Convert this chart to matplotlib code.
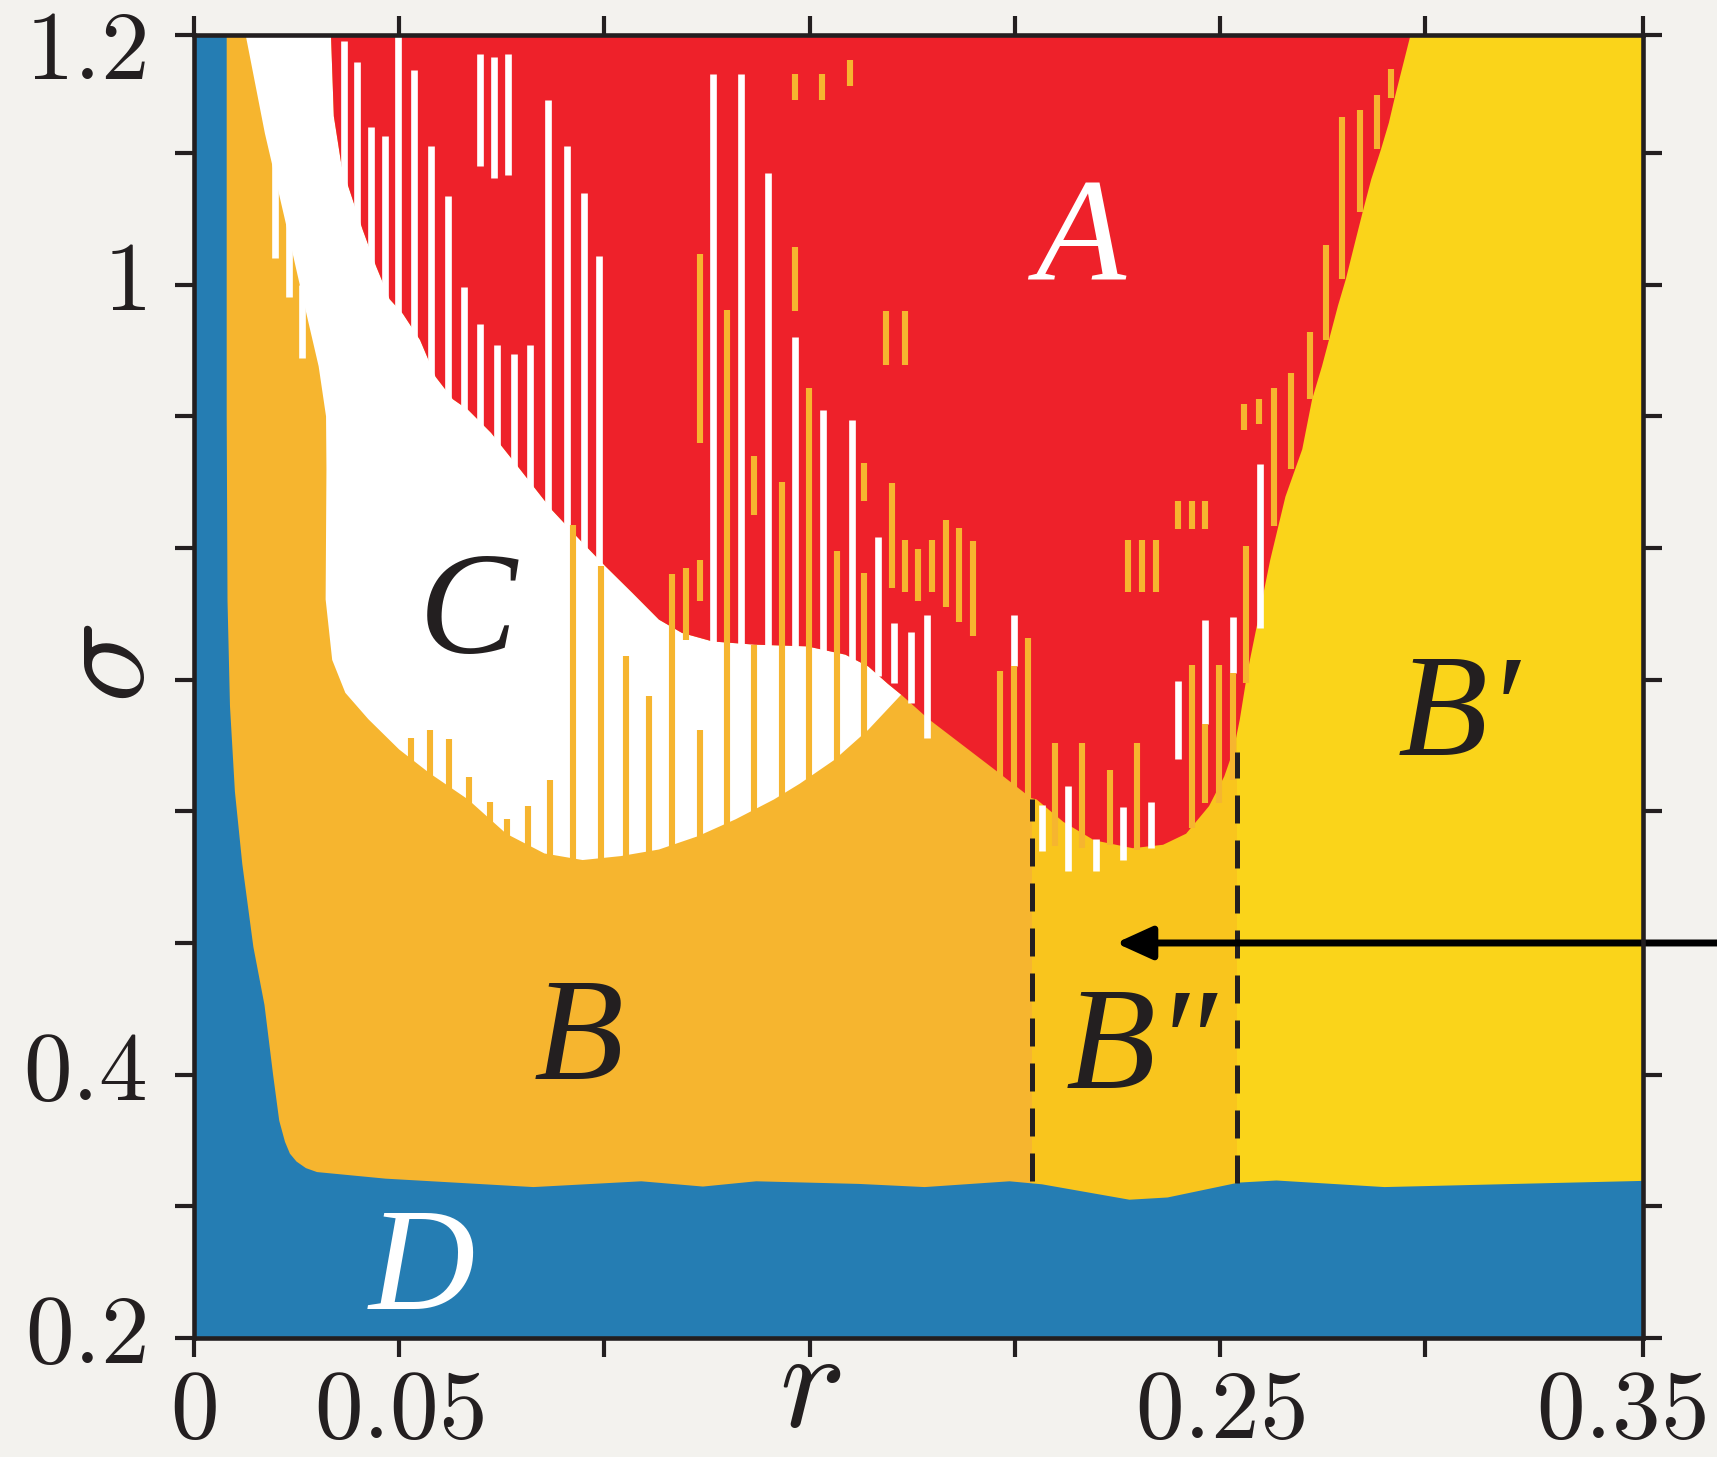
import matplotlib
matplotlib.use("Agg")
import matplotlib.pyplot as plt
from matplotlib.patches import Polygon
from matplotlib.transforms import ScaledTranslation

plt.rcParams["mathtext.fontset"] = "cm"

# axis frame (right / top edge of the drawn box sit at 0.353 / 1.19)
R_LO, R_HI = 0.0, 0.353
S_LO, S_HI = 0.2, 1.19

x_ticks = [0, 0.05, 0.10, 0.15, 0.20, 0.25, 0.30, 0.353]
x_tick_labels = ["$0$", "$0.05$", "", "", "", "$0.25$", "", "$0.35$"]
y_ticks = [0.2, 0.3, 0.4, 0.5, 0.6, 0.7, 0.8, 0.9, 1.0, 1.1, 1.19]
y_tick_labels = ["$0.2$", "", "$0.4$", "", "", "", "", "", "$1$", "", "$1.2$"]

# B'' strip limits (dashed lines)
bpp_r = [0.2041, 0.2542]
bpp_lo = [0.319, 0.318]
bpp_hi = [0.6096, 0.645]

# D / B boundary (blue region top edge), left strip then bottom band
d_r = [0.0080, 0.0080, 0.0082, 0.0088, 0.0100, 0.0118, 0.0145, 0.0172, 0.0193,
       0.0208, 0.0222, 0.0234, 0.0250, 0.0273, 0.0300, 0.0467, 0.0827, 0.1090,
       0.1240, 0.1370, 0.1620, 0.1780, 0.1987, 0.2066, 0.2279, 0.2372, 0.2545,
       0.2637, 0.2900, 0.3219, 0.3530]
d_s = [1.19, 0.900, 0.760, 0.680, 0.615, 0.560, 0.497, 0.453, 0.400,
       0.365, 0.349, 0.340, 0.334, 0.329, 0.326, 0.321, 0.3146, 0.319,
       0.315, 0.319, 0.317, 0.3146, 0.319, 0.3167, 0.305, 0.3067, 0.318,
       0.3196, 0.3146, 0.317, 0.3193]

# A / C boundary, from the top edge down to the A-B-C point
ac_r = [0.0334, 0.0341, 0.0360, 0.0379, 0.0411, 0.0444, 0.0477, 0.0509, 0.0551,
        0.0589, 0.0631, 0.0668, 0.0724, 0.0789, 0.0872, 0.0947, 0.1003, 0.1068,
        0.1133, 0.1189, 0.1264, 0.1366, 0.1494, 0.1587, 0.1643, 0.1690, 0.1723]
ac_s = [1.19, 1.128, 1.090, 1.072, 1.042, 1.014, 0.989, 0.978, 0.958,
        0.930, 0.913, 0.905, 0.8875, 0.862, 0.829, 0.804, 0.786, 0.766,
        0.7456, 0.7355, 0.729, 0.7266, 0.7253, 0.719, 0.710, 0.697, 0.6886]

# C / B boundary, from the A-B-C point back up to the top edge
cb_r = [0.1723, 0.1643, 0.1560, 0.1476, 0.1413, 0.1320, 0.1227, 0.1133, 0.1040,
        0.0947, 0.0854, 0.0761, 0.0668, 0.0574, 0.0500, 0.0425, 0.0369, 0.0337,
        0.0321, 0.0323, 0.0322, 0.0304, 0.0266, 0.0220, 0.0173, 0.0126]
cb_s = [0.6886, 0.662, 0.639, 0.621, 0.609, 0.594, 0.581, 0.571, 0.566,
        0.563, 0.568, 0.583, 0.609, 0.629, 0.647, 0.670, 0.690, 0.715,
        0.761, 0.860, 0.900, 0.938, 0.989, 1.052, 1.115, 1.19]

# A / B' boundary, from the top edge down
abp_r = [0.2964, 0.2926, 0.2911, 0.2892, 0.2868, 0.2847, 0.2830, 0.2806, 0.2787,
         0.2765, 0.2748, 0.2724, 0.2700, 0.2659, 0.2622, 0.2594, 0.2566, 0.2548]
abp_s = [1.19, 1.143, 1.123, 1.103, 1.080, 1.055, 1.034, 1.004, 0.984,
         0.958, 0.938, 0.913, 0.875, 0.839, 0.791, 0.748, 0.705, 0.670]

# lower edge of A inside B'', then A / B down to the A-B-C point
abpp_r = [0.2533, 0.2510, 0.2473, 0.2417, 0.2361, 0.2287, 0.2193, 0.2118, 0.2053,
          0.2040, 0.1951, 0.1790]
abpp_s = [0.647, 0.6265, 0.604, 0.583, 0.5746, 0.572, 0.578, 0.592, 0.609,
          0.610, 0.6316, 0.670]

# white stripes (r, lower sigma, upper sigma)
white_r = [0.0365, 0.0397, 0.0432, 0.0465, 0.0497, 0.0537, 0.0578, 0.0619, 0.0658,
           0.0698, 0.0738, 0.0779, 0.0819, 0.0863, 0.0909, 0.0951, 0.0987,
           0.0698, 0.0730, 0.0765,
           0.0197, 0.0232, 0.0264,
           0.1265, 0.1332, 0.1398, 0.1464, 0.1532, 0.1602,
           0.1667, 0.1705, 0.1746, 0.1787, 0.1998, 0.2065, 0.2130, 0.2198,
           0.2264, 0.2331, 0.2398, 0.2464, 0.2532, 0.2597]
white_lo = [1.03, 1.00, 0.97, 0.95, 0.93, 0.91, 0.88, 0.86, 0.85,
            0.84, 0.83, 0.81, 0.79, 0.78, 0.76, 0.75, 0.73,
            1.090, 1.081, 1.083,
            1.0205, 0.991, 0.944,
            0.70, 0.70, 0.70, 0.70, 0.70, 0.70,
            0.7025, 0.6975, 0.6823, 0.6557, 0.710, 0.5695, 0.5543, 0.5543,
            0.5632, 0.5721, 0.6398, 0.6666, 0.7051, 0.7393]
white_hi = [1.185, 1.169, 1.120, 1.113, 1.190, 1.163, 1.105, 1.067, 0.998,
            0.970, 0.9545, 0.9477, 0.9545, 1.140, 1.105, 1.070, 1.022,
            1.175, 1.173, 1.175,
            1.10, 1.08, 1.00,
            1.160, 1.160, 1.085, 0.960, 0.9045, 0.8976,
            0.8085, 0.743, 0.7365, 0.7494, 0.7494, 0.605, 0.619, 0.5789,
            0.6032, 0.6068, 0.6988, 0.745, 0.7475, 0.8641]

# orange stripes (r, lower sigma, upper sigma)
orange_r = [0.0530, 0.0576, 0.0621, 0.0670, 0.0721, 0.0764, 0.0814, 0.0868,
            0.0923, 0.0992, 0.1052, 0.1108, 0.1164, 0.1199, 0.1233, 0.1233, 0.1233,
            0.1298, 0.1364, 0.1364, 0.1432, 0.1464, 0.1464, 0.1531, 0.1599,
            0.1498, 0.1566, 0.1632, 0.1632, 0.1686, 0.1732,
            0.1700, 0.1733, 0.1765, 0.1797, 0.1831, 0.1864, 0.1897,
            0.1964, 0.1998, 0.2032, 0.2097, 0.2164, 0.2231, 0.2298,
            0.2276, 0.2310, 0.2344, 0.2397, 0.2431, 0.2464,
            0.2432, 0.2464, 0.2497, 0.2532, 0.2564, 0.2557, 0.2594,
            0.2632, 0.2672, 0.2718, 0.2758, 0.2798, 0.2840, 0.2881, 0.2916]
orange_lo = [0.55, 0.55, 0.55, 0.55, 0.55, 0.55, 0.55, 0.55,
             0.545, 0.545, 0.545, 0.55, 0.555, 0.730, 0.7595, 0.565, 0.880,
             0.57, 0.825, 0.58, 0.59, 0.980, 1.140, 1.140, 1.151,
             0.60, 0.62, 0.8355, 0.64, 0.939, 0.939,
             0.770, 0.7664, 0.7595, 0.7664, 0.7555, 0.7439, 0.7334,
             0.60, 0.60, 0.60, 0.5733, 0.5721, 0.5746, 0.5708,
             0.7664, 0.7664, 0.7664, 0.8145, 0.8145, 0.8145,
             0.5873, 0.6063, 0.6063, 0.624, 0.6975, 0.8895, 0.8945,
             0.8165, 0.860, 0.913, 0.958, 1.004, 1.055, 1.103, 1.142]
orange_hi = [0.6557, 0.662, 0.655, 0.6258, 0.6068, 0.5941, 0.6037, 0.624,
             0.8173, 0.786, 0.7177, 0.6873, 0.7803, 0.785, 0.7912, 0.662, 1.023,
             0.981, 0.870, 0.7266, 0.850, 1.029, 1.160, 1.160, 1.171,
             0.9216, 0.7975, 0.8646, 0.781, 0.980, 0.980,
             0.8494, 0.806, 0.799, 0.806, 0.8216, 0.815, 0.805,
             0.7063, 0.710, 0.7317, 0.6519, 0.6519, 0.6316, 0.6519,
             0.806, 0.806, 0.806, 0.8355, 0.8355, 0.8355,
             0.7114, 0.6666, 0.7114, 0.705, 0.8015, 0.9097, 0.913,
             0.9216, 0.933, 0.964, 1.0305, 1.127, 1.133, 1.144, 1.164]

# region labels
lab_text = ["A", "C", "B", "B\u2033", "B\u2032", "D"]
lab_r = [0.2159, 0.0667, 0.0937, 0.2309, 0.3081, 0.0555]
lab_s = [1.004, 0.7205, 0.397, 0.390, 0.643, 0.222]
lab_col = ["white", "#231f20", "#231f20", "#231f20", "#231f20", "white"]

# arrow pointing into B''
arrow_tip = (0.2246, 0.5)
arrow_tail = (0.385, 0.5)

BG = "#f3f2ee"
INK = "#231f20"
BLUE = "#257db3"
ORANGE = "#f6b52f"
YELLOW = "#fad41a"
BPP = "#f9c51d"
RED = "#ee212a"


def main():
    fig = plt.figure(figsize=(17.17, 14.57), dpi=100, facecolor=BG)
    ax = fig.add_axes([0.1129, 0.0817, 0.8440, 0.8946])
    ax.set_xlim(R_LO, R_HI)
    ax.set_ylim(S_LO, S_HI)

    # background phases: B, B'', B'
    ax.axvspan(R_LO, bpp_r[0], color=ORANGE, lw=0, zorder=0)
    ax.axvspan(bpp_r[0], bpp_r[1], color=BPP, lw=0, zorder=0)
    ax.axvspan(bpp_r[1], R_HI, color=YELLOW, lw=0, zorder=0)

    # D
    d_poly = [(R_LO, S_HI)] + list(zip(d_r, d_s)) + [(R_HI, S_LO), (R_LO, S_LO)]
    ax.add_patch(Polygon(d_poly, closed=True, fc=BLUE, ec="none", zorder=1))

    # C
    c_poly = list(zip(ac_r, ac_s)) + list(zip(cb_r, cb_s))[1:]
    ax.add_patch(Polygon(c_poly, closed=True, fc="white", ec="none", zorder=1))

    # A
    a_poly = (list(zip(abp_r, abp_s)) + list(zip(abpp_r, abpp_s))
              + list(zip(ac_r, ac_s))[::-1])
    ax.add_patch(Polygon(a_poly, closed=True, fc=RED, ec="none", zorder=1))

    # stripes
    ax.vlines(white_r, white_lo, white_hi, colors="white", lw=4.8,
              capstyle="butt", zorder=2)
    ax.vlines(orange_r, orange_lo, orange_hi, colors=ORANGE, lw=4.4,
              capstyle="butt", zorder=2)

    # B'' strip borders
    ax.vlines(bpp_r, bpp_lo, bpp_hi, colors=INK, lw=3.6,
              linestyles=(0, (5.6, 3.4)), zorder=3)

    ax.annotate("", xy=arrow_tip, xytext=arrow_tail,
                arrowprops=dict(arrowstyle="-|>,head_length=1.1,head_width=0.5",
                                mutation_scale=20, lw=5, color="black",
                                shrinkA=0, shrinkB=0),
                annotation_clip=False, zorder=4)

    for t, r, s, c in zip(lab_text, lab_r, lab_s, lab_col):
        ax.text(r, s, t, color=c, fontsize=106, ha="center", va="baseline",
                family=["Liberation Serif", "DejaVu Serif"], style="italic",
                zorder=4)

    # frame and ticks
    for sp in ax.spines.values():
        sp.set_linewidth(3.3)
        sp.set_color(INK)
        sp.set_zorder(5)
    ax.set_xticks(x_ticks)
    ax.set_xticklabels(x_tick_labels)
    ax.set_yticks(y_ticks)
    ax.set_yticklabels(y_tick_labels)
    ax.tick_params(which="both", direction="out", length=13.5, width=3,
                   color=INK, labelcolor=INK, top=True, right=True,
                   labelsize=70)
    ax.tick_params(axis="x", pad=6)
    ax.tick_params(axis="y", pad=21)

    # nudge labels the way the original places them
    up = ScaledTranslation(0, 0.11, fig.dpi_scale_trans)
    down = ScaledTranslation(0, -0.08, fig.dpi_scale_trans)
    for lbl in ax.get_yticklabels():
        lbl.set_transform(lbl.get_transform() + (down if lbl.get_text() == "$1.2$" else up))
    last = ax.get_xticklabels()[-1]
    last.set_transform(last.get_transform() + ScaledTranslation(-0.22, 0, fig.dpi_scale_trans))

    ax.set_xlabel("$r$", fontsize=100, color=INK, ha="center", va="bottom")
    ax.xaxis.set_label_coords(0.15 / R_HI, -0.0895)
    ax.set_ylabel(r"$\sigma$", fontsize=98, color=INK, rotation=90,
                  ha="center", va="center")
    ax.yaxis.set_label_coords(-0.061, (0.712 - S_LO) / (S_HI - S_LO))

    fig.savefig("out.png", dpi=100, facecolor=BG)


if __name__ == "__main__":
    main()
